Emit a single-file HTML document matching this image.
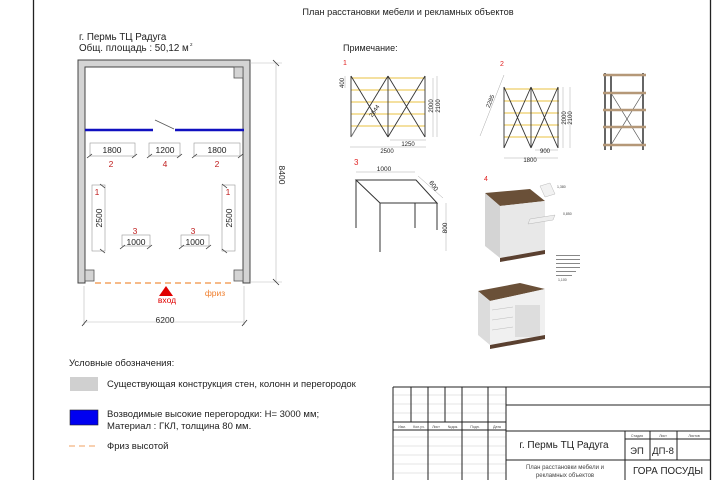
<!DOCTYPE html>
<html><head><meta charset="utf-8"><style>
html,body{margin:0;padding:0;background:#fff;width:720px;height:480px;overflow:hidden}
svg{display:block;font-family:"Liberation Sans","Noto Sans CJK SC",sans-serif}
</style></head><body>
<svg width="720" height="480" viewBox="0 0 720 480" xmlns="http://www.w3.org/2000/svg">
<rect width="720" height="480" fill="#fff"/>
<!-- frame -->
<line x1="33.5" y1="0" x2="33.5" y2="480" stroke="#222" stroke-width="1.3"/>
<line x1="710.5" y1="0" x2="710.5" y2="480" stroke="#222" stroke-width="1.3"/>
<text x="408" y="15" font-size="9.2" text-anchor="middle" fill="#222">План расстановки мебели и рекламных объектов</text>
<text x="79" y="40" font-size="9.8" fill="#222">г. Пермь ТЦ Радуга</text>
<text x="79" y="51" font-size="9.8" fill="#222">Общ. площадь :  50,12 м</text><text x="190" y="46" font-size="4.5" fill="#222">2</text>

<!-- floor plan -->
<path d="M78,60 H250 V283 H243 V67 H85 V283 H78 Z" fill="#d4d4d4" stroke="#444" stroke-width="1"/>
<rect x="234" y="67" width="9" height="11" fill="#d4d4d4" stroke="#555" stroke-width="0.8"/>
<rect x="85" y="270" width="9" height="11" fill="#d4d4d4" stroke="#555" stroke-width="0.8"/>
<rect x="234" y="270" width="9" height="11" fill="#d4d4d4" stroke="#555" stroke-width="0.8"/>
<line x1="85" y1="130" x2="153" y2="130" stroke="#1010c0" stroke-width="2.5"/>
<line x1="175" y1="130" x2="244" y2="130" stroke="#1010c0" stroke-width="2.5"/>
<line x1="155" y1="120" x2="174" y2="129" stroke="#555" stroke-width="0.8"/>
<g stroke="#999" stroke-width="0.6" fill="none">
<rect x="90" y="143" width="45" height="13"/><rect x="149" y="143" width="31" height="13"/><rect x="194" y="143" width="46" height="13"/>
<rect x="92" y="185" width="13" height="66"/><rect x="222" y="185" width="13" height="66"/>
<rect x="122" y="235" width="28" height="11"/><rect x="181" y="235" width="28" height="11"/>
</g>
<g stroke="#333" stroke-width="0.8">
<line x1="87" y1="158" x2="92" y2="154"/><line x1="132" y1="158" x2="137" y2="154"/>
<line x1="147" y1="158" x2="152" y2="154"/><line x1="177" y1="158" x2="182" y2="154"/>
<line x1="192" y1="158" x2="197" y2="154"/><line x1="238" y1="158" x2="243" y2="154"/>
<line x1="100" y1="184" x2="105" y2="188"/><line x1="100" y1="249" x2="105" y2="253"/>
<line x1="222" y1="184" x2="227" y2="188"/><line x1="222" y1="249" x2="227" y2="253"/>
<line x1="120" y1="249" x2="125" y2="245"/><line x1="147" y1="249" x2="152" y2="245"/>
<line x1="179" y1="249" x2="184" y2="245"/><line x1="206" y1="249" x2="211" y2="245"/>
</g>
<g font-size="8.5" fill="#222" text-anchor="middle">
<text x="112" y="153">1800</text><text x="165" y="153">1200</text><text x="217" y="153">1800</text>
<text x="136" y="245">1000</text><text x="195" y="245">1000</text>
<text transform="translate(102,218) rotate(-90)">2500</text>
<text transform="translate(232,218) rotate(-90)">2500</text>
<text x="165" y="323">6200</text>
<text transform="translate(279,175) rotate(90)">8400</text>
</g>
<g font-size="8.5" fill="#c02020" text-anchor="middle">
<text x="111" y="167">2</text><text x="165" y="167">4</text><text x="217" y="167">2</text>
<text x="97" y="195">1</text><text x="228" y="195">1</text>
<text x="135" y="234">3</text><text x="193" y="234">3</text>
</g>
<line x1="95" y1="283" x2="235" y2="283" stroke="#f09040" stroke-width="1.2" stroke-dasharray="6,4"/>
<polygon points="166,286 159,296 173,296" fill="#e00000"/>
<text x="167" y="303" font-size="8.5" fill="#e00000" text-anchor="middle">вход</text>
<text x="215" y="296" font-size="8.5" fill="#f08030" text-anchor="middle">фриз</text>
<g stroke="#bbb" stroke-width="0.6">
<line x1="84" y1="286" x2="84" y2="325"/><line x1="244" y1="286" x2="244" y2="325"/>
<line x1="84" y1="322" x2="244" y2="322"/>
<line x1="250" y1="63" x2="282" y2="63"/><line x1="250" y1="282" x2="282" y2="282"/>
<line x1="276" y1="63" x2="276" y2="282"/>
</g>
<g stroke="#333" stroke-width="0.8">
<line x1="82" y1="326" x2="87" y2="320"/><line x1="242" y1="326" x2="247" y2="320"/>
<line x1="273" y1="60" x2="279" y2="66"/><line x1="273" y1="279" x2="279" y2="285"/>
</g>

<!-- note -->
<text x="343" y="51" font-size="9" fill="#222">Примечание:</text>
<text x="343" y="65" font-size="7" fill="#e02020">1</text>
<text x="500" y="66" font-size="7" fill="#e02020">2</text>
<text x="354" y="165" font-size="8" fill="#e02020">3</text>
<text x="484" y="181" font-size="7" fill="#e02020">4</text>
<!-- shelf 1 -->
<g stroke="#e8c040" stroke-width="1"><line x1="351" y1="78" x2="425" y2="78"/><line x1="351" y1="90" x2="425" y2="90"/><line x1="351" y1="102" x2="425" y2="102"/><line x1="351" y1="114" x2="425" y2="114"/><line x1="351" y1="126" x2="425" y2="126"/></g>
<g stroke="#333" stroke-width="0.9"><line x1="351" y1="76" x2="351" y2="137"/><line x1="388" y1="76" x2="388" y2="137"/><line x1="425" y1="76" x2="425" y2="137"/>
<line x1="351" y1="76" x2="388" y2="137"/><line x1="388" y1="76" x2="351" y2="137"/><line x1="388" y1="76" x2="425" y2="137"/><line x1="425" y1="76" x2="388" y2="137"/></g>
<g stroke="#aaa" stroke-width="0.5" fill="none"><line x1="350" y1="147" x2="426" y2="147"/><line x1="390" y1="140" x2="426" y2="140"/><line x1="437" y1="76" x2="437" y2="137"/><line x1="433" y1="78" x2="433" y2="137"/><line x1="345" y1="76" x2="345" y2="88"/><line x1="351" y1="137" x2="365" y2="115"/></g>
<g font-size="6" fill="#222" text-anchor="middle"><text x="408" y="146">1250</text><text x="387" y="153">2500</text>
<text transform="translate(433,106) rotate(-90)">2000</text><text transform="translate(440,106) rotate(-90)">2100</text>
<text transform="translate(344,83) rotate(-90)">400</text><text transform="translate(376,112) rotate(-55)">2644</text></g>
<!-- shelf 2 -->
<g stroke="#e8c040" stroke-width="1"><line x1="504" y1="89" x2="559" y2="89"/><line x1="504" y1="101" x2="559" y2="101"/><line x1="504" y1="113" x2="559" y2="113"/><line x1="504" y1="125" x2="559" y2="125"/><line x1="504" y1="137" x2="559" y2="137"/></g>
<g stroke="#333" stroke-width="0.9"><line x1="504" y1="87" x2="504" y2="148"/><line x1="531" y1="87" x2="531" y2="148"/><line x1="558" y1="87" x2="558" y2="148"/>
<line x1="504" y1="87" x2="531" y2="148"/><line x1="531" y1="87" x2="504" y2="148"/><line x1="531" y1="87" x2="558" y2="148"/><line x1="558" y1="87" x2="531" y2="148"/></g>
<g stroke="#aaa" stroke-width="0.5"><line x1="504" y1="158" x2="558" y2="158"/><line x1="535" y1="150" x2="558" y2="150"/><line x1="563" y1="87" x2="563" y2="148"/><line x1="570" y1="87" x2="570" y2="148"/><line x1="504" y1="75" x2="480" y2="136"/></g>
<g font-size="6" fill="#222" text-anchor="middle"><text x="545" y="153">900</text><text x="530" y="162">1800</text>
<text transform="translate(566,118) rotate(-90)">2000</text><text transform="translate(572,118) rotate(-90)">2100</text>
<text transform="translate(492,102) rotate(-68)">2285</text></g>
<!-- shelf photo -->
<g stroke="#333" stroke-width="1.5"><line x1="605" y1="73" x2="605" y2="150"/><line x1="611" y1="75" x2="611" y2="150"/><line x1="643" y1="73" x2="643" y2="150"/></g>
<g stroke="#555" stroke-width="0.7"><line x1="611" y1="93" x2="643" y2="145"/><line x1="643" y1="93" x2="611" y2="145"/></g>
<g stroke="#b59878" stroke-width="2.5"><line x1="603" y1="75" x2="646" y2="75"/><line x1="603" y1="93" x2="646" y2="93"/><line x1="603" y1="110" x2="646" y2="110"/><line x1="603" y1="127" x2="646" y2="127"/><line x1="603" y1="145" x2="646" y2="145"/></g>
<!-- table 3 -->
<g stroke="#333" stroke-width="1" fill="none"><polygon points="356,180 416,180 437,203 380,203"/>
<line x1="380" y1="203" x2="380" y2="252"/><line x1="415" y1="203" x2="415" y2="228"/><line x1="356" y1="180" x2="356" y2="228"/><line x1="437" y1="203" x2="437" y2="230"/></g>
<g stroke="#aaa" stroke-width="0.5"><line x1="356" y1="172" x2="415" y2="172"/><line x1="418" y1="176" x2="443" y2="198"/><line x1="446" y1="203" x2="446" y2="251"/></g>
<g font-size="6.5" fill="#222" text-anchor="middle"><text x="384" y="171">1000</text><text transform="translate(432,187) rotate(55)">600</text><text transform="translate(447,228) rotate(-90)">800</text></g>
<!-- item 4 -->
<polygon points="485,193 530,189 545,201 500,206" fill="#6a5038"/>
<polygon points="500,206 545,201 545,250 500,258" fill="#e8e8e8"/>
<polygon points="485,193 500,206 500,258 485,246" fill="#d4d4d4"/>
<polygon points="500,258 545,250 545,254 500,262" fill="#5a4030"/>
<polygon points="540,186 550,183 555,194 545,197" fill="#f2f2f2" stroke="#aaa" stroke-width="0.4"/>
<polygon points="530,219 555,215 553,220 528,224" fill="#eee" stroke="#aaa" stroke-width="0.4"/>
<g fill="#888"><rect x="556" y="255" width="24" height="1"/><rect x="556" y="259" width="24" height="1"/><rect x="556" y="263" width="24" height="1"/><rect x="556" y="267" width="24" height="1"/><rect x="556" y="271" width="20" height="1"/><rect x="556" y="275" width="16" height="1"/></g>
<g font-size="3.5" fill="#444"><text x="557" y="188">1,380</text><text x="563" y="215">0,850</text><text x="558" y="281">1,100</text></g>
<polygon points="478,291 520,283 545,289 490,301" fill="#6a5038"/>
<polygon points="490,301 545,289 545,335 490,345" fill="#f0f0f0"/>
<polygon points="478,291 490,301 490,345 478,335" fill="#dcdcdc"/>
<rect x="515" y="305" width="25" height="32" fill="#ddd"/>
<polygon points="490,345 545,335 545,339 490,349" fill="#5a4030"/>
<g stroke="#bbb" stroke-width="0.5"><line x1="492" y1="310" x2="513" y2="307"/><line x1="492" y1="320" x2="513" y2="317"/><line x1="492" y1="330" x2="513" y2="327"/></g>

<!-- legend -->
<text x="69" y="366" font-size="9.5" fill="#222">Условные обозначения:</text>
<rect x="70" y="377" width="28" height="14" fill="#d0d0d0"/>
<text x="107" y="387" font-size="9.5" fill="#222">Существующая конструкция стен, колонн и перегородок</text>
<rect x="70" y="410" width="28" height="15" fill="#0000f0" stroke="#222" stroke-width="0.6"/>
<text x="107" y="417" font-size="9.5" fill="#222">Возводимые высокие перегородки: Н= 3000 мм;</text>
<text x="107" y="429" font-size="9.5" fill="#222">Материал : ГКЛ, толщина 80 мм.</text>
<line x1="69" y1="446" x2="98" y2="446" stroke="#f0a060" stroke-width="1" stroke-dasharray="6,4"/>
<text x="107" y="449" font-size="9.5" fill="#222">Фриз высотой</text>

<!-- title block -->
<g stroke="#ccc" stroke-width="0.5">
<line x1="393" y1="395" x2="506" y2="395"/><line x1="393" y1="404" x2="506" y2="404"/><line x1="393" y1="413" x2="506" y2="413"/>
<line x1="393" y1="437" x2="506" y2="437"/><line x1="393" y1="446" x2="506" y2="446"/><line x1="393" y1="455" x2="506" y2="455"/><line x1="393" y1="464" x2="506" y2="464"/><line x1="393" y1="473" x2="506" y2="473"/>
</g>
<g stroke="#222" stroke-width="1" fill="none">
<line x1="393" y1="387" x2="711" y2="387"/>
<line x1="393" y1="387" x2="393" y2="480"/>
<line x1="411" y1="387" x2="411" y2="422"/><line x1="428" y1="387" x2="428" y2="480"/>
<line x1="445" y1="387" x2="445" y2="422"/><line x1="462" y1="387" x2="462" y2="480"/>
<line x1="488" y1="387" x2="488" y2="480"/><line x1="506" y1="387" x2="506" y2="480"/>
<line x1="393" y1="422" x2="506" y2="422"/><line x1="393" y1="430" x2="506" y2="430"/>
<line x1="506" y1="405" x2="711" y2="405"/><line x1="506" y1="431" x2="711" y2="431"/><line x1="506" y1="460" x2="711" y2="460"/>
<line x1="625" y1="431" x2="625" y2="480"/><line x1="650" y1="431" x2="650" y2="460"/><line x1="677" y1="431" x2="677" y2="460"/>
<line x1="625" y1="439" x2="711" y2="439"/>
</g>
<g font-size="3.5" fill="#444" text-anchor="middle"><text x="402" y="428">Изм.</text><text x="419" y="428">Кол.уч.</text><text x="436" y="428">Лист</text><text x="453" y="428">№док.</text><text x="475" y="428">Подп.</text><text x="497" y="428">Дата</text>
<text x="637" y="437">Стадия</text><text x="663" y="437">Лист</text><text x="694" y="437">Листов</text></g>
<text x="564" y="448" font-size="10" fill="#222" text-anchor="middle">г. Пермь ТЦ Радуга</text>
<text x="637" y="454" font-size="9.5" fill="#222" text-anchor="middle">ЭП</text>
<text x="663" y="454" font-size="9.5" fill="#222" text-anchor="middle">ДП-8</text>
<text x="565" y="469" font-size="6" fill="#444" text-anchor="middle">План расстановки мебели и</text>
<text x="565" y="477" font-size="6" fill="#444" text-anchor="middle">рекламных объектов</text>
<text x="668" y="474" font-size="9.8" fill="#222" text-anchor="middle">ГОРА ПОСУДЫ</text>
</svg>
</body></html>
